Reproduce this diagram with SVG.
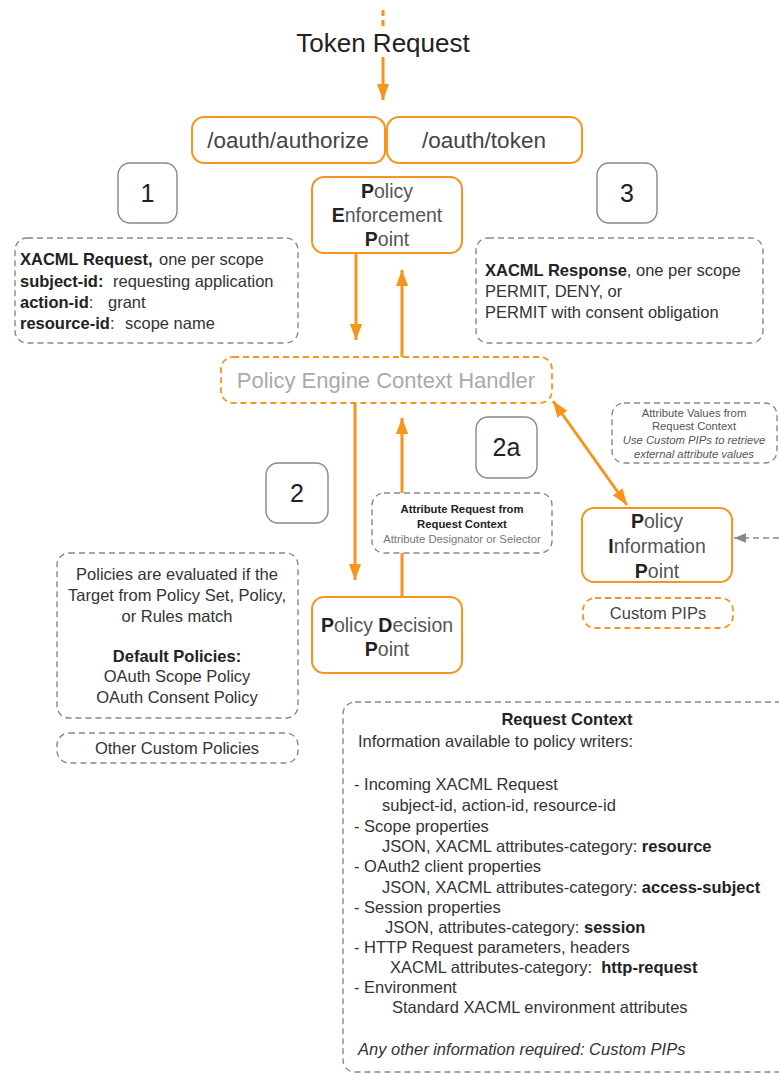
<svg xmlns="http://www.w3.org/2000/svg" width="779" height="1074" viewBox="0 0 779 1074">
  <style>
    text { font-family: "Liberation Sans", Arial, Helvetica, sans-serif; fill: #333; }
    .node { fill: #fff; stroke: #F7941E; stroke-width: 2; }
    .ctx { fill: none; stroke: #F7941E; stroke-width: 1.8; stroke-dasharray: 6 4; }
    .note { fill: #fff; stroke: #888; stroke-width: 1.4; stroke-dasharray: 6 4; }
    .num { fill: #fff; stroke: #888; stroke-width: 1.4; }
    .flow { stroke: #F7941E; stroke-width: 3; fill: none; }
    .lbl { font-size: 19.5px; text-anchor: middle; fill: #555; }
    .body { font-size: 16.5px; }
    .small { font-size: 11.3px; text-anchor: middle; }
    .numtxt { font-size: 25px; text-anchor: middle; fill: #222; }
    .b { font-weight: bold; }
    .k { fill: #222; }
    .g4 { fill: #444; }
    .g5 { fill: #555; }
    .g7 { fill: #777; }
    .g9 { fill: #aaa; }
  </style>
  <defs>
    <marker id="ah" viewBox="0 0 10 10" refX="10" refY="5" markerWidth="5.4" markerHeight="5.4" orient="auto-start-reverse" markerUnits="strokeWidth">
      <path d="M0,1.2 L10,5 L0,8.8 z" fill="#F7941E"/>
    </marker>
    <marker id="ahg" viewBox="0 0 10 10" refX="10" refY="5" markerWidth="8" markerHeight="8" orient="auto" markerUnits="strokeWidth">
      <path d="M0,1 L10,5 L0,9 z" fill="#888"/>
    </marker>
  </defs>

  <!-- incoming request -->
  <g id="token-request">
    <line x1="383" y1="10" x2="383" y2="27" stroke="#F7941E" stroke-width="3" stroke-dasharray="6 4"/>
    <text class="k" x="383" y="52" font-size="26" text-anchor="middle">Token Request</text>
  </g>

  <!-- endpoints -->
  <g id="authorize">
    <rect class="node" x="192" y="117" width="193" height="46" rx="12"/>
    <text class="g4" x="288" y="148" font-size="22.5" text-anchor="middle">/oauth/authorize</text>
  </g>
  <g id="token">
    <rect class="node" x="387" y="117" width="195" height="46" rx="12"/>
    <text class="g4" x="484" y="148" font-size="22.5" text-anchor="middle">/oauth/token</text>
  </g>

  <!-- policy enforcement point -->
  <g id="pep">
    <rect class="node" x="312" y="177" width="150" height="76" rx="12"/>
    <text class="lbl" x="387" y="198"><tspan class="b k">P</tspan>olicy</text>
    <text class="lbl" x="387" y="222"><tspan class="b k">E</tspan>nforcement</text>
    <text class="lbl" x="387" y="246"><tspan class="b k">P</tspan>oint</text>
  </g>

  <!-- step numbers -->
  <g id="step-1">
    <rect class="num" x="118" y="163" width="59" height="60" rx="12"/>
    <text class="numtxt" x="147.5" y="202">1</text>
  </g>
  <g id="step-3">
    <rect class="num" x="597" y="163" width="60" height="60" rx="12"/>
    <text class="numtxt" x="627" y="202">3</text>
  </g>
  <g id="step-2">
    <rect class="num" x="266" y="463" width="62" height="60" rx="12"/>
    <text class="numtxt" x="297" y="502">2</text>
  </g>
  <g id="step-2a">
    <rect class="num" x="476" y="417" width="61" height="61" rx="12"/>
    <text class="numtxt" x="506.5" y="456">2a</text>
  </g>

  <!-- XACML request note -->
  <g id="xacml-request">
    <rect class="note" x="15" y="238" width="283" height="105" rx="12"/>
    <text class="body" x="20" y="265"><tspan class="b k">XACML Request,</tspan><tspan x="159">one per scope</tspan></text>
    <text class="body" x="20" y="287"><tspan class="b k">subject-id:</tspan><tspan x="113">requesting application</tspan></text>
    <text class="body" x="20" y="308"><tspan class="b k">action-id</tspan>:<tspan x="108">grant</tspan></text>
    <text class="body" x="20" y="329"><tspan class="b k">resource-id</tspan>:<tspan x="125">scope name</tspan></text>
  </g>

  <!-- XACML response note -->
  <g id="xacml-response">
    <rect class="note" x="476" y="238" width="287" height="105" rx="12"/>
    <text class="body" x="485" y="276"><tspan class="b k">XACML Response</tspan>, one per scope</text>
    <text class="body" x="485" y="297">PERMIT, DENY, or</text>
    <text class="body" x="485" y="318">PERMIT with consent obligation</text>
  </g>

  <!-- context handler -->
  <g id="context-handler">
    <rect class="ctx" x="221" y="357" width="331" height="46" rx="12"/>
    <text class="g9" x="386" y="388" font-size="22" text-anchor="middle">Policy Engine Context Handler</text>
  </g>

  <!-- attribute request note -->
  <g id="attribute-request">
    <rect class="note" x="372" y="493" width="180" height="60" rx="12"/>
    <text class="small b k" x="462" y="513">Attribute Request from</text>
    <text class="small b k" x="462" y="528">Request Context</text>
    <text class="small g7" x="462" y="543">Attribute Designator or Selector</text>
  </g>

  <!-- attribute values note -->
  <g id="attribute-values">
    <rect class="note" x="612" y="403" width="165" height="60" rx="12"/>
    <text class="small g5" x="694" y="417">Attribute Values from</text>
    <text class="small g5" x="694" y="430">Request Context</text>
    <text class="small g5" x="694" y="444" font-style="italic">Use Custom PIPs to retrieve</text>
    <text class="small g5" x="694" y="458" font-style="italic">external attribute values</text>
  </g>

  <!-- policy information point -->
  <g id="pip">
    <rect class="node" x="582" y="508" width="150" height="74" rx="12"/>
    <text class="lbl" x="657" y="528"><tspan class="b k">P</tspan>olicy</text>
    <text class="lbl" x="657" y="553"><tspan class="b k">I</tspan>nformation</text>
    <text class="lbl" x="657" y="578"><tspan class="b k">P</tspan>oint</text>
  </g>
  <g id="custom-pips">
    <rect class="ctx" x="583" y="598" width="150" height="30" rx="12"/>
    <text class="body g4" x="658" y="619" text-anchor="middle">Custom PIPs</text>
  </g>

  <!-- policy decision point -->
  <g id="pdp">
    <rect class="node" x="312" y="597" width="150" height="76" rx="12"/>
    <text class="lbl" x="387" y="632"><tspan class="b k">P</tspan>olicy <tspan class="b k">D</tspan>ecision</text>
    <text class="lbl" x="387" y="656"><tspan class="b k">P</tspan>oint</text>
  </g>

  <!-- policies notes -->
  <g id="policies">
    <rect class="note" x="57" y="553" width="241" height="165" rx="12"/>
    <text class="body" x="177" y="580" text-anchor="middle">Policies are evaluated if the</text>
    <text class="body" x="177" y="601" text-anchor="middle">Target from Policy Set, Policy,</text>
    <text class="body" x="177" y="622" text-anchor="middle">or Rules match</text>
    <text class="body b k" x="177" y="662" text-anchor="middle">Default Policies:</text>
    <text class="body" x="177" y="682" text-anchor="middle">OAuth Scope Policy</text>
    <text class="body" x="177" y="703" text-anchor="middle">OAuth Consent Policy</text>
  </g>
  <g id="other-policies">
    <rect class="note" x="57" y="733" width="241" height="30" rx="12"/>
    <text class="body" x="177" y="754" text-anchor="middle">Other Custom Policies</text>
  </g>

  <!-- request context note -->
  <g id="request-context">
    <rect class="note" x="343" y="702" width="480" height="370" rx="12"/>
    <text class="body b k" x="567" y="725" text-anchor="middle">Request Context</text>
    <text class="body" x="358" y="747">Information available to policy writers:</text>
    <text class="body" x="354" y="790">- Incoming XACML Request</text>
    <text class="body" x="382" y="811">subject-id, action-id, resource-id</text>
    <text class="body" x="354" y="832">- Scope properties</text>
    <text class="body" x="382" y="852">JSON, XACML attributes-category: <tspan class="b k">resource</tspan></text>
    <text class="body" x="354" y="872">- OAuth2 client properties</text>
    <text class="body" x="382" y="893">JSON, XACML attributes-category: <tspan class="b k">access-subject</tspan></text>
    <text class="body" x="354" y="913">- Session properties</text>
    <text class="body" x="385" y="933">JSON, attributes-category: <tspan class="b k">session</tspan></text>
    <text class="body" x="354" y="953">- HTTP Request parameters, headers</text>
    <text class="body" x="390" y="973" xml:space="preserve">XACML attributes-category:  <tspan class="b k">http-request</tspan></text>
    <text class="body" x="354" y="993">- Environment</text>
    <text class="body" x="392" y="1013">Standard XACML environment attributes</text>
    <text class="body" x="358" y="1055" font-style="italic">Any other information required: Custom PIPs</text>
  </g>

  <!-- connectors -->
  <g id="connectors">
    <line class="flow" x1="383" y1="57" x2="383" y2="100" marker-end="url(#ah)"/>
    <line class="flow" x1="356" y1="253" x2="356" y2="340" marker-end="url(#ah)"/>
    <line class="flow" x1="402" y1="357" x2="402" y2="270" marker-end="url(#ah)"/>
    <line class="flow" x1="355" y1="403" x2="355" y2="580" marker-end="url(#ah)"/>
    <line class="flow" x1="402" y1="597" x2="402" y2="553"/>
    <line class="flow" x1="402" y1="493" x2="402" y2="418" marker-end="url(#ah)"/>
    <line class="flow" x1="553" y1="401" x2="627" y2="505" marker-start="url(#ah)" marker-end="url(#ah)"/>
    <line x1="779" y1="538" x2="734" y2="538" stroke="#888" stroke-width="1.5" stroke-dasharray="6 4" marker-end="url(#ahg)"/>
  </g>
</svg>
